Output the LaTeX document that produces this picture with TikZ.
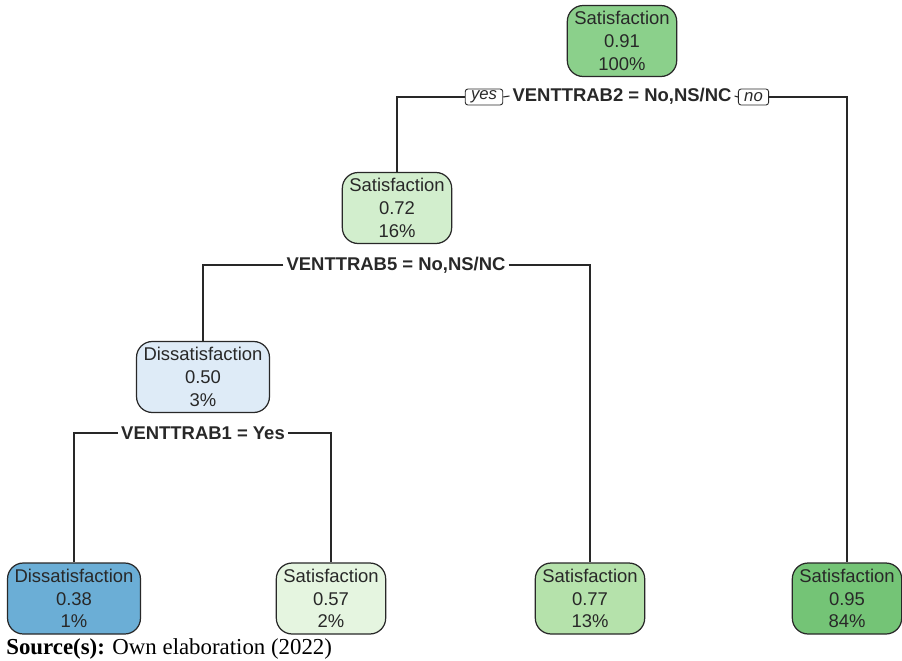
\documentclass[tikz,border=0pt]{standalone}
\usepackage{fontspec}
\setmainfont{Liberation Sans}
\newfontfamily\srcfont{Liberation Serif}
\usepackage{tikz}
\definecolor{grA}{RGB}{139,208,139}
\definecolor{grB}{RGB}{210,238,205}
\definecolor{grC}{RGB}{229,245,224}
\definecolor{grD}{RGB}{181,226,171}
\definecolor{grE}{RGB}{116,196,118}
\definecolor{blA}{RGB}{222,235,247}
\definecolor{blB}{RGB}{107,174,214}
\definecolor{edge}{RGB}{40,40,40}
\tikzset{
  treenode/.style={draw=edge,line width=0.7pt,rounded corners=9pt,align=center,
    inner xsep=0.14cm,minimum height=1.42cm,font=\fontsize{10.5}{13}\selectfont,
    execute at begin node={\rule{0pt}{11pt}}},
  splitlab/.style={inner sep=1.5pt,font=\fontsize{10.5}{12.6}\selectfont\bfseries},
  yesno/.style={draw=edge,line width=0.5pt,rounded corners=1.5pt,inner xsep=3.3pt,inner ysep=0.5pt,
    minimum height=0.32cm,font=\fontsize{9.5}{10}\selectfont\itshape}
}

\begin{document}
\begin{tikzpicture}[x=0.02cm,y=-0.02cm]
\useasboundingbox (0,0) rectangle (902,660);
\begin{scope}[edge,line width=0.6pt]
  % inner nodes
  \node[treenode,fill=grA] (root) at (622,41) {Satisfaction\\0.91\\100\%};
  \node[treenode,fill=grB] (nSat) at (397,208) {Satisfaction\\0.72\\16\%};
  \node[treenode,fill=blA] (nDis) at (203,377) {Dissatisfaction\\0.50\\3\%};
  % leaves
  \foreach \nm/\x/\col/\lab/\p/\q in {lfA/74/blB/Dissatisfaction/0.38/1,
      lfB/331/grC/Satisfaction/0.57/2, lfC/590/grD/Satisfaction/0.77/13,
      lfD/847/grE/Satisfaction/0.95/84} {
    \node[treenode,fill=\col] (\nm) at (\x,598.5) {\lab\\\p\\\q\%};
  }
  % splits
  \node[splitlab] (spA) at (622,96) {VENTTRAB2 = No,NS/NC};
  \node[yesno] (yes) at (484,97) {yes};
  \node[yesno] (no) at (753.5,97) {no};
  \node[splitlab] (spB) at (396,265) {VENTTRAB5 = No,NS/NC};
  \node[splitlab] (spC) at (203,433) {VENTTRAB1 = Yes};
  \draw (yes.west) -| (nSat.north);
  \draw (yes.east) -- (spA.west);
  \draw (spA.east) -- (no.west);
  \draw (no.east) -| (lfD.north);
  \draw (spB.west) -| (nDis.north);
  \draw (spB.east) -| (lfC.north);
  \draw (spC.west) -| (lfA.north);
  \draw (spC.east) -| (lfB.north);
\end{scope}
\node[anchor=base west,inner sep=0pt,font=\srcfont\fontsize{13}{15}\selectfont] (src) at (6,654)
  {\textbf{Source(s):} Own elaboration (2022)};
\end{tikzpicture}
\end{document}
